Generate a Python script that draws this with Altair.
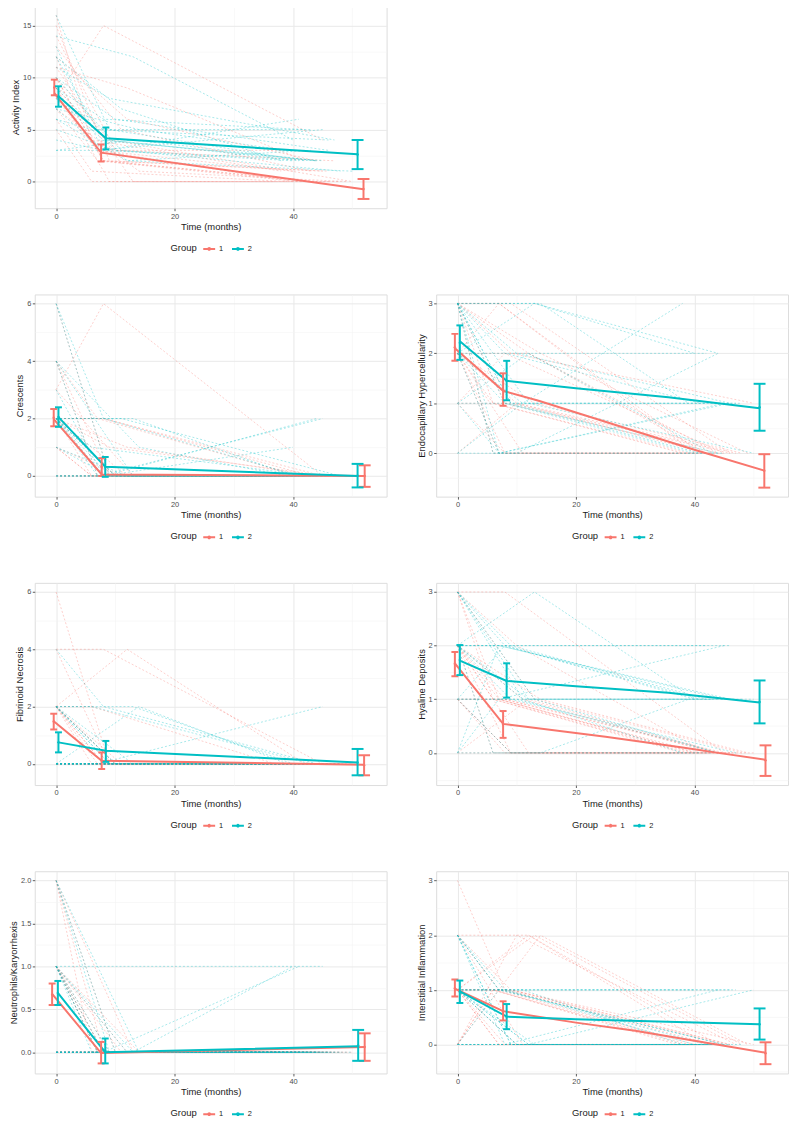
import json
import altair as alt
import pandas as pd

RED = "#F8766D"
TEAL = "#00BFC4"
FONT = "Liberation Sans"
GROUPS = ["1", "2"]

X_TICKS = [0, 20, 40]
X_ALL = [0, 10, 20, 30, 40, 50]
X_DOMAIN = [-3.6, 55.8]

# visit times (months) of each patient: baseline is 0
G1_T1 = [8, 7, 9, 6, 8, 12, 7, 10, 6, 11, 9, 8, 13, 7, 12, 6, 9, 10, 14, 8]
G1_T2 = [44, 40, 46, 38, 45, 42, 41, 47, 39, 43, 50, 45, 48, 40, 44, 37, 46, 42, 49, 43]
G2_T1 = [9, 13, 8, 7, 10, 11, 6, 8, 12, 9, 14, 7, 10, 8, 11, 9, 12, 7, 13, 8]
G2_T2 = [42, 40, 44, 45, 46, 38, 43, 41, 50, 47, 39, 45, 44, 42, 48, 41, 43, 46, 44, 40]

# ---- Activity Index ----
ACT_G1 = [[10, 2, 0], [12, 3, 1], [9, 0, 0], [16, 4, 1], [8, 15, 4], [11, 9, 2], [7, 2, 0], [14, 3, 2],
          [6, 1, 0], [13, 5, 1], [10, 4, 0], [9, 2, 1], [11, 0, 0], [8, 3, 0], [12, 6, 2], [5, 0, 0],
          [15, 2, 1], [9, 3, 3], [7, 1, 0], [10, 2, 0]]
ACT_G2 = [[16, 5, 2], [14, 12, 4], [8, 4, 2], [3, 3, 5], [10, 6, 3], [12, 7, 2], [6, 5, 5], [4, 3, 6],
          [9, 2, 1], [11, 8, 4], [7, 5, 3], [13, 4, 2], [5, 3, 2], [9, 6, 5], [10, 3, 1], [8, 4, 2],
          [6, 2, 3], [12, 5, 4], [3, 4, 2], [7, 3, 2]]
ACT_LINE1 = [(-0.3, 8.5), (7.6, 2.78), (51.9, -0.73)]
ACT_LINE2 = [(0.4, 8.2), (8.4, 4.17), (50.9, 2.62)]
ACT_ERR1 = [(-0.3, 9.05, 8.3, 9.8), (7.6, 2.75, 1.93, 3.57), (51.9, -0.71, -1.67, 0.25)]
ACT_ERR2 = [(0.4, 8.18, 7.2, 9.16), (8.4, 4.15, 3.1, 5.2), (50.9, 2.6, 1.2, 4.0)]

# ---- Crescents ----
CRE_G1 = [[2, 0, 0], [4, 0, 0], [2, 1, 0], [1, 0, 0], [3, 6, 0], [2, 0, 0], [4, 2, 0], [0, 0, 0],
          [2, 0, 0], [1, 0, 0], [6, 0, 0], [2, 2, 0], [3, 0, 0], [0, 0, 0], [2, 1, 0], [1, 0, 0],
          [4, 0, 0], [2, 0, 0], [0, 0, 0], [2, 2, 0]]
CRE_G2 = [[6, 0, 0], [2, 2, 0], [0, 0, 2], [4, 0, 0], [2, 0, 0], [0, 0, 0], [2, 1, 0], [6, 2, 0],
          [1, 0, 0], [2, 0, 0], [4, 1, 0], [0, 0, 2], [2, 0, 0], [3, 0, 0], [2, 2, 0], [1, 0, 0],
          [0, 0, 0], [2, 0, 0], [4, 0, 0], [2, 0, 1]]
CRE_LINE1 = [(-0.4, 1.98), (7.7, 0.05), (52.1, 0.0)]
CRE_LINE2 = [(0.4, 2.05), (8.3, 0.32), (50.9, 0.0)]
CRE_ERR1 = [(-0.4, 2.03, 1.73, 2.33), (7.7, 0.31, 0.0, 0.62), (52.1, 0.0, -0.38, 0.37)]
CRE_ERR2 = [(0.4, 2.05, 1.71, 2.39), (8.3, 0.32, -0.03, 0.66), (50.9, 0.01, -0.4, 0.42)]

# ---- Endocapillary Hypercellularity ----
END_G1 = [[3, 1, 0], [2, 0, 0], [3, 3, 0], [2, 1, 0], [1, 2, 0], [3, 2, 0], [2, 3, 0], [0, 1, 0],
          [3, 1, 0], [2, 0, 0], [3, 2, 1], [1, 0, 0], [2, 1, 0], [3, 3, 0], [2, 2, 0], [3, 0, 0],
          [1, 1, 0], [2, 1, 0], [3, 2, 0], [2, 0, 0]]
END_G2 = [[3, 1, 1], [3, 3, 2], [2, 1, 0], [1, 0, 1], [3, 2, 1], [0, 1, 3], [3, 0, 0], [2, 2, 1],
          [3, 1, 0], [1, 1, 1], [3, 3, 1], [2, 0, 0], [0, 0, 2], [3, 2, 2], [2, 1, 1], [3, 1, 0],
          [1, 2, 0], [3, 0, 1], [2, 3, 2], [3, 1, 0]]
END_LINE1 = [(-0.44, 2.1), (7.7, 1.25), (13.7, 1.05), (37.3, 0.17), (40, 0.07), (51.8, -0.35)]
END_LINE2 = [(0.4, 2.24), (8.3, 1.45), (20, 1.3), (35.6, 1.12), (51, 0.9)]
END_ERR1 = [(-0.44, 2.12, 1.85, 2.39), (7.7, 1.27, 0.95, 1.6), (51.8, -0.35, -0.69, -0.02)]
END_ERR2 = [(0.4, 2.21, 1.87, 2.56), (8.3, 1.45, 1.06, 1.85), (51, 0.92, 0.45, 1.39)]

# ---- Fibrinoid Necrosis ----
FIB_G1 = [[2, 0, 0], [0, 0, 0], [6, 0, 0], [2, 0, 0], [4, 4, 0], [2, 4, 0], [0, 0, 0], [2, 0, 0],
          [0, 0, 0], [2, 0, 0], [4, 0, 0], [2, 0, 0], [0, 0, 0], [2, 0, 0], [0, 0, 0], [2, 2, 0],
          [0, 0, 0], [2, 0, 0], [0, 0, 0], [0, 0, 0]]
FIB_G2 = [[0, 0, 0], [2, 2, 0], [4, 2, 0], [0, 0, 2], [2, 0, 0], [0, 0, 0], [2, 2, 0], [0, 0, 0],
          [0, 0, 0], [2, 0, 0], [0, 2, 0], [0, 0, 0], [2, 0, 0], [0, 0, 0], [0, 0, 0], [2, 0, 0],
          [0, 0, 0], [0, 0, 0], [2, 0, 0], [0, 0, 0]]
FIB_LINE1 = [(-0.4, 1.49), (7.7, 0.11), (52, -0.03)]
FIB_LINE2 = [(0.4, 0.75), (8.4, 0.46), (50.9, 0.05)]
FIB_ERR1 = [(-0.4, 1.48, 1.2, 1.75), (7.7, 0.11, -0.18, 0.4), (52, -0.05, -0.4, 0.3)]
FIB_ERR2 = [(0.4, 0.75, 0.4, 1.1), (8.4, 0.44, 0.07, 0.8), (50.9, 0.05, -0.4, 0.52)]

# ---- Hyaline Deposits ----
HYA_G1 = [[2, 1, 0], [3, 1, 0], [1, 0, 0], [2, 1, 0], [3, 3, 0], [2, 0, 0], [1, 1, 0], [0, 0, 0],
          [3, 1, 0], [2, 1, 0], [2, 0, 0], [1, 1, 0], [3, 1, 0], [2, 1, 0], [0, 1, 0], [2, 0, 0],
          [1, 0, 0], [3, 2, 0], [2, 1, 0], [1, 0, 0]]
HYA_G2 = [[3, 2, 1], [2, 3, 1], [1, 1, 1], [0, 1, 2], [2, 2, 2], [3, 1, 0], [2, 0, 0], [1, 2, 1],
          [3, 1, 1], [2, 1, 0], [0, 0, 1], [2, 2, 1], [1, 1, 0], [3, 2, 2], [2, 1, 1], [1, 0, 0],
          [2, 1, 1], [0, 2, 1], [3, 1, 0], [2, 2, 1]]
HYA_LINE1 = [(-0.44, 1.67), (7.7, 0.54), (25, 0.3), (38, 0.1), (44, 0.0), (52, -0.13)]
HYA_LINE2 = [(0.4, 1.72), (8.3, 1.34), (20, 1.24), (35.6, 1.12), (51, 0.94)]
HYA_ERR1 = [(-0.44, 1.66, 1.43, 1.88), (7.7, 0.53, 0.28, 0.78), (52, -0.14, -0.43, 0.14)]
HYA_ERR2 = [(0.4, 1.73, 1.45, 2.01), (8.3, 1.35, 1.03, 1.67), (51, 0.95, 0.55, 1.35)]

# ---- Neutrophils/Karyorrhexis ----
NEU_G1 = [[2, 0, 0], [1, 0, 0], [0, 0, 0], [2, 0, 0], [1, 0, 0], [0, 0, 0], [1, 0, 0], [2, 0, 0],
          [0, 0, 0], [1, 0, 0], [0, 0, 0], [1, 0, 0], [2, 0, 0], [0, 0, 0], [1, 0, 0], [0, 0, 0],
          [1, 0, 0], [0, 0, 0], [1, 0, 0], [0, 0, 0]]
NEU_G2 = [[2, 0, 0], [1, 0, 1], [0, 0, 0], [1, 1, 1], [2, 0, 0], [0, 0, 0], [1, 0, 0], [0, 0, 1],
          [1, 0, 0], [0, 0, 0], [2, 0, 0], [1, 0, 0], [0, 0, 0], [1, 0, 0], [0, 0, 0], [1, 0, 0],
          [0, 0, 0], [1, 0, 0], [0, 0, 0], [0, 0, 0]]
NEU_LINE1 = [(-0.67, 0.68), (7.6, -0.01), (52.1, 0.06)]
NEU_LINE2 = [(0.3, 0.69), (8.3, 0.0), (51, 0.07)]
NEU_ERR1 = [(-0.67, 0.67, 0.55, 0.8), (7.6, 0.0, -0.13, 0.12), (52.1, 0.06, -0.1, 0.22)]
NEU_ERR2 = [(0.3, 0.69, 0.55, 0.83), (8.3, 0.02, -0.13, 0.16), (51, 0.08, -0.1, 0.26)]

# ---- Interstitial Inflammation ----
INT_G1 = [[1, 0, 0], [2, 1, 0], [1, 1, 0], [0, 1, 0], [3, 1, 0], [2, 2, 0], [1, 0, 0], [0, 2, 0],
          [1, 1, 0], [2, 0, 0], [1, 1, 0], [0, 0, 0], [1, 2, 0], [1, 0, 0], [1, 2, 0], [0, 1, 0],
          [2, 1, 0], [1, 0, 0], [0, 2, 0], [1, 1, 0]]
INT_G2 = [[2, 0, 0], [1, 1, 1], [0, 0, 1], [2, 1, 0], [1, 0, 0], [1, 1, 0], [0, 0, 0], [2, 0, 0],
          [1, 0, 1], [1, 1, 1], [0, 0, 0], [2, 1, 0], [1, 0, 0], [1, 1, 0], [0, 0, 0], [2, 0, 0],
          [1, 0, 0], [0, 1, 1], [1, 0, 0], [2, 1, 0]]
INT_LINE1 = [(-0.44, 1.02), (7.7, 0.61), (20, 0.4), (30, 0.25), (40, 0.07), (52, -0.15)]
INT_LINE2 = [(0.4, 0.97), (8.3, 0.51), (20, 0.46), (51, 0.37)]
INT_ERR1 = [(-0.44, 1.03, 0.88, 1.19), (7.7, 0.61, 0.44, 0.79), (52, -0.16, -0.36, 0.04)]
INT_ERR2 = [(0.4, 0.96, 0.76, 1.17), (8.3, 0.51, 0.28, 0.74), (51, 0.37, 0.09, 0.66)]

W, H = 355, 204
KEY_SHAPE = "M-1,0L1,0M-0.15,0A0.15,0.15,0,1,1,0.15,0A0.15,0.15,0,1,1,-0.15,0"


def make_axis(values, majors, title, fmt):
    test = "indexof(%s, datum.value) >= 0" % json.dumps(majors)
    return alt.Axis(
        values=values, title=title, grid=True, format=fmt,
        gridColor={"condition": {"test": test, "value": "#e9e9e9"}, "value": "#f4f4f4"},
        gridWidth={"condition": {"test": test, "value": 1.0}, "value": 0.6},
        tickColor="#333333",
        tickOpacity={"condition": {"test": test, "value": 1}, "value": 0},
        tickSize=2.5, tickWidth=0.8,
        labelExpr="%s ? datum.label : ''" % test,
        labelColor="#4d4d4d", labelFontSize=7.5, labelFont=FONT, labelPadding=1.5,
        labelFlush=False, labelOverlap=False,
        titleFont=FONT, titleFontSize=9.5, titleColor="#1a1a1a", titleFontWeight="normal",
        titlePadding=2, domain=False,
    )


def make_panel(ytitle, g1, g2, line1, line2, err1, err2, ydom, ymajor, yall, yfmt=".0f"):
    rows = []
    for grp, vals, t1s, t2s in (("1", g1, G1_T1, G1_T2), ("2", g2, G2_T1, G2_T2)):
        for i, trio in enumerate(vals):
            for t, v in zip((0, t1s[i], t2s[i]), trio):
                rows.append({"pid": "%s_%d" % (grp, i), "g": grp, "t": t, "v": v})
    spag = pd.DataFrame(rows)
    lines = pd.DataFrame([{"g": "1", "t": t, "v": v} for t, v in line1] +
                         [{"g": "2", "t": t, "v": v} for t, v in line2])
    errs = pd.DataFrame([{"g": "1", "t": t, "m": m, "lo": lo, "hi": hi} for t, m, lo, hi in err1] +
                        [{"g": "2", "t": t, "m": m, "lo": lo, "hi": hi} for t, m, lo, hi in err2])

    xs = alt.Scale(domain=X_DOMAIN, nice=False, zero=False)
    ys = alt.Scale(domain=ydom, nice=False, zero=False)
    cs = alt.Scale(domain=GROUPS, range=[RED, TEAL])
    xaxis = make_axis(X_ALL, X_TICKS, "Time (months)", ".0f")
    yaxis = make_axis(yall, ymajor, ytitle, yfmt)
    x = alt.X("t:Q", scale=xs, axis=xaxis)

    def Y(f):
        return alt.Y(f, scale=ys, axis=yaxis)

    stroke_g = alt.Stroke("g:N", scale=cs, legend=None)
    fill_g = alt.Fill("g:N", scale=cs, legend=None)
    legend = alt.Legend(
        orient="none", legendX=137, legendY=H + 34, direction="horizontal",
        title="Group", titleOrient="left", titleFont=FONT, titleFontSize=9.5,
        titleFontWeight="normal", titleColor="#1a1a1a", titlePadding=5, titleBaseline="middle",
        labelFont=FONT, labelFontSize=7.5, labelColor="#1a1a1a", labelOffset=3,
        symbolType=KEY_SHAPE, symbolStrokeWidth=2, symbolSize=144, columnPadding=4,
    )

    spag_layer = alt.Chart(spag).mark_line(
        strokeDash=[2, 2], strokeWidth=0.7, opacity=0.5, clip=True
    ).encode(x=x, y=Y("v:Q"), stroke=stroke_g, detail="pid:N", order="t:Q")
    line_layer = alt.Chart(lines).mark_line(strokeWidth=2, clip=True).encode(
        x=x, y=Y("v:Q"), color=alt.Color("g:N", scale=cs, legend=legend), order="t:Q")
    rule_layer = alt.Chart(errs).mark_rule(strokeWidth=2, clip=True).encode(
        x=x, y=Y("lo:Q"), y2="hi:Q", stroke=stroke_g)
    capw = alt.condition("datum.t > 30", alt.value(12), alt.value(7))
    cap_lo = alt.Chart(errs).mark_tick(orient="horizontal", thickness=2, opacity=1).encode(
        x=x, y=Y("lo:Q"), fill=fill_g, size=capw)
    cap_hi = alt.Chart(errs).mark_tick(orient="horizontal", thickness=2, opacity=1).encode(
        x=x, y=Y("hi:Q"), fill=fill_g, size=capw)
    pt_layer = alt.Chart(errs).mark_point(filled=True, size=6, opacity=1).encode(
        x=x, y=Y("m:Q"), fill=fill_g)

    return alt.layer(spag_layer, line_layer, rule_layer, cap_lo, cap_hi, pt_layer).properties(
        width=W, height=H)


p_act = make_panel("Activity Index", ACT_G1, ACT_G2, ACT_LINE1, ACT_LINE2, ACT_ERR1, ACT_ERR2,
                   [-2.56, 16.88], [0, 5, 10, 15], [0, 2.5, 5, 7.5, 10, 12.5, 15])
p_cre = make_panel("Crescents", CRE_G1, CRE_G2, CRE_LINE1, CRE_LINE2, CRE_ERR1, CRE_ERR2,
                   [-0.72, 6.32], [0, 2, 4, 6], [0, 1, 2, 3, 4, 5, 6])
p_end = make_panel("Endocapillary Hypercellularity", END_G1, END_G2, END_LINE1, END_LINE2,
                   END_ERR1, END_ERR2, [-0.87, 3.18], [0, 1, 2, 3],
                   [-0.5, 0, 0.5, 1, 1.5, 2, 2.5, 3])
p_fib = make_panel("Fibrinoid Necrosis", FIB_G1, FIB_G2, FIB_LINE1, FIB_LINE2, FIB_ERR1, FIB_ERR2,
                   [-0.74, 6.32], [0, 2, 4, 6], [0, 1, 2, 3, 4, 5, 6])
p_hya = make_panel("Hyaline Deposits", HYA_G1, HYA_G2, HYA_LINE1, HYA_LINE2, HYA_ERR1, HYA_ERR2,
                   [-0.6, 3.17], [0, 1, 2, 3], [-0.5, 0, 0.5, 1, 1.5, 2, 2.5, 3])
p_neu = make_panel("Neutrophils/Karyorrhexis", NEU_G1, NEU_G2, NEU_LINE1, NEU_LINE2, NEU_ERR1,
                   NEU_ERR2, [-0.247, 2.107], [0, 0.5, 1, 1.5, 2],
                   [0, 0.25, 0.5, 0.75, 1, 1.25, 1.5, 1.75, 2], ".1f")
p_int = make_panel("Interstitial Inflammation", INT_G1, INT_G2, INT_LINE1, INT_LINE2, INT_ERR1,
                   INT_ERR2, [-0.53, 3.17], [0, 1, 2, 3], [-0.5, 0, 0.5, 1, 1.5, 2, 2.5, 3])

blank = alt.Chart(pd.DataFrame({"a": [0]})).mark_text(text="", opacity=0).encode(
    x=alt.value(0), y=alt.value(0)
).properties(width=W, height=H, view=alt.ViewBackground(stroke="transparent"))

chart = alt.concat(
    p_act, blank, p_cre, p_end, p_fib, p_hya, p_neu, p_int,
    columns=2, spacing={"row": 87, "column": 50}, bounds="flush",
).resolve_scale(color="independent").properties(
    padding={"left": 0, "top": -14, "right": 0, "bottom": 0}
).configure_view(stroke="#7a7a7a", strokeWidth=1).configure(font=FONT, background="white")

chart.save("out.html", embed_options={"renderer": "svg", "actions": False})
